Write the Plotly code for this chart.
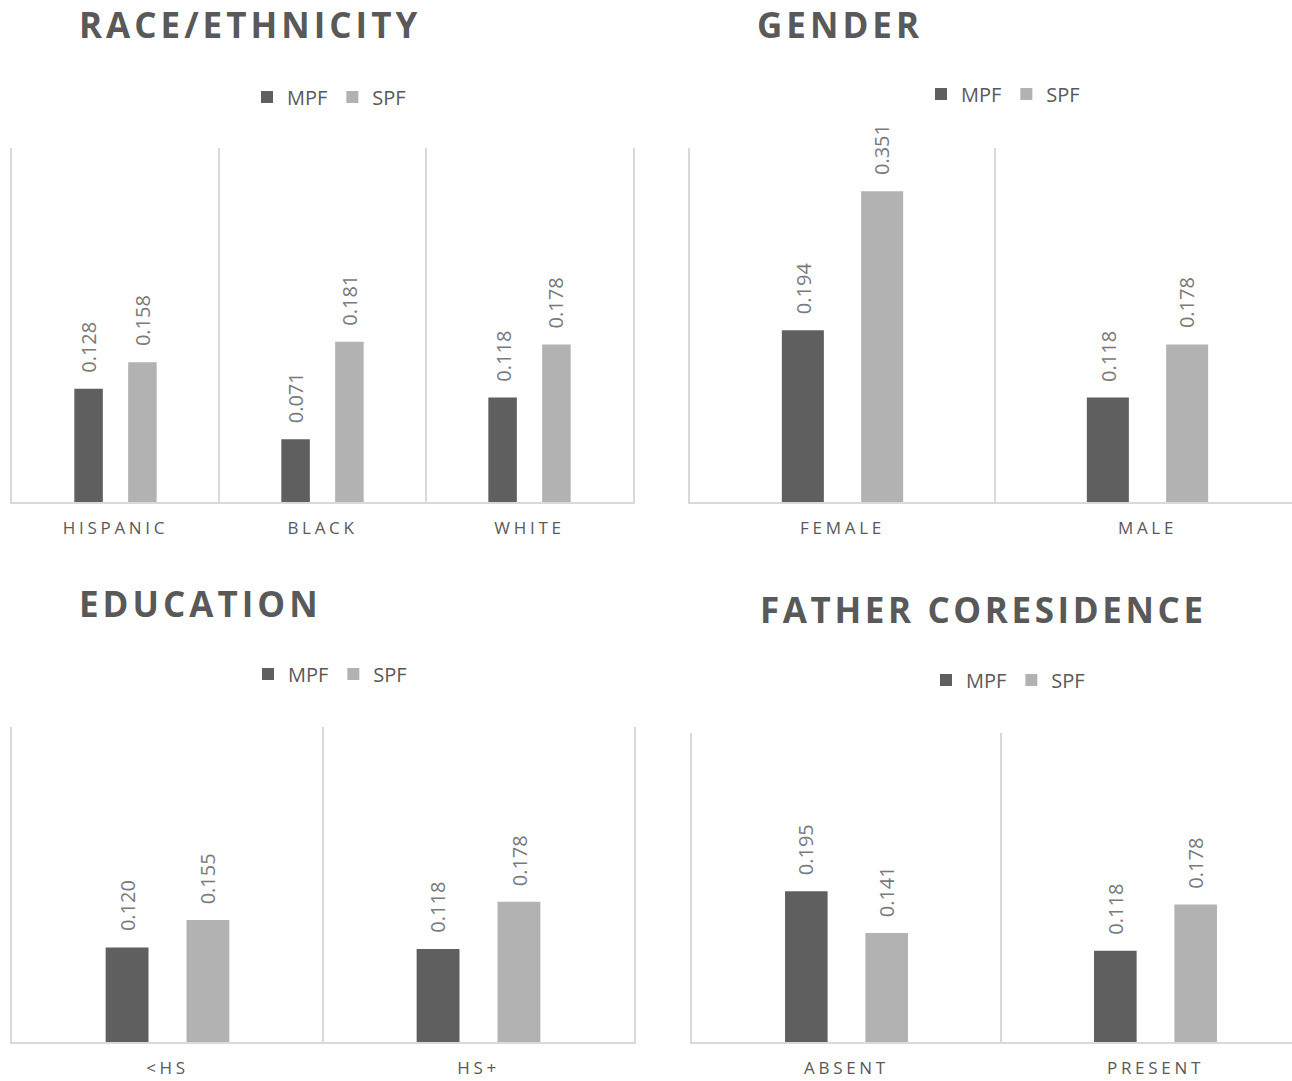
import plotly.graph_objects as go

# ---- data -------------------------------------------------------------
race_cats = ["HISPANIC", "BLACK", "WHITE"]
race_mpf = [0.128, 0.071, 0.118]
race_spf = [0.158, 0.181, 0.178]

gender_cats = ["FEMALE", "MALE"]
gender_mpf = [0.194, 0.118]
gender_spf = [0.351, 0.178]

edu_cats = ["<HS", "HS+"]
edu_mpf = [0.120, 0.118]
edu_spf = [0.155, 0.178]

father_cats = ["ABSENT", "PRESENT"]
father_mpf = [0.195, 0.118]
father_spf = [0.141, 0.178]

series_names = ["MPF", "SPF"]
panel_titles = ["RACE/ETHNICITY", "GENDER", "EDUCATION", "FATHER CORESIDENCE"]

# ---- styling ----------------------------------------------------------
W, H = 1292, 1081
BAR_COLORS = ["#5f5f5f", "#b2b2b2"]
TEXT_DARK = "#595959"
TEXT_VALUE = "#7a7a7a"
LINE = "#d9d9d9"
FONT = "Open Sans"
BARGAP = 0.48
SLOT = (1 - BARGAP) / 2          # width of one series slot inside a group
Y_MAX = 0.4


def esc(s):
    return s.replace("&", "&amp;").replace("<", "&lt;").replace(">", "&gt;")


def spaced(s, px):
    return f'<span style="letter-spacing:{px}px">{esc(s)}</span>'


# pixel frames of each panel: left edge, category width, top, bottom
panels = [
    dict(cats=race_cats, vals=[race_mpf, race_spf], left=12, catw=207, top=148, bottom=502,
         title_x=77, title_y=25, title_sp=4, leg_x=329, leg_y=97, clip=False),
    dict(cats=gender_cats, vals=[gender_mpf, gender_spf], left=690, catw=305, top=148, bottom=502,
         title_x=755, title_y=24, title_sp=4, leg_x=1003, leg_y=94, clip=True),
    dict(cats=edu_cats, vals=[edu_mpf, edu_spf], left=12, catw=311, top=727, bottom=1042,
         title_x=77, title_y=603, title_sp=4, leg_x=330, leg_y=674, clip=False),
    dict(cats=father_cats, vals=[father_mpf, father_spf], left=692, catw=309, top=733, bottom=1042,
         title_x=758, title_y=609, title_sp=3.6, leg_x=1008, leg_y=680, clip=True),
]

fig = go.Figure()
annotations = []

for k, p in enumerate(panels, start=1):
    sfx = "" if k == 1 else str(k)
    xa, ya = f"xaxis{sfx}", f"yaxis{sfx}"
    xr, yr = f"x{sfx}", f"y{sfx}"
    leg = "legend" if k == 1 else f"legend{k}"
    n = len(p["cats"])

    right_px = min(p["left"] + p["catw"] * n, W)
    span = (right_px - p["left"]) / p["catw"]

    for s, (name, vals) in enumerate(zip(series_names, p["vals"])):
        fig.add_trace(go.Bar(
            x=p["cats"], y=vals, name=name,
            marker=dict(color=BAR_COLORS[s], line=dict(width=0)),
            xaxis=xr, yaxis=yr, legend=leg, showlegend=True,
            hoverinfo="skip",
        ))
        offset = (s - 0.5) * SLOT
        for i, v in enumerate(vals):
            annotations.append(dict(
                x=i + offset, y=v, xref=xr, yref=yr,
                text=f"{v:.3f}", textangle=-90, showarrow=False,
                xanchor="center", yanchor="bottom", yshift=14,
                font=dict(family=FONT, size=20, color=TEXT_VALUE),
            ))

    fig.layout[xa] = dict(
        domain=[p["left"] / W, right_px / W],
        anchor=yr, type="category",
        categoryorder="array", categoryarray=p["cats"],
        range=[-0.5, -0.5 + span],
        tickson="boundaries", ticks="", showgrid=True,
        gridcolor=LINE, gridwidth=1.5,
        showline=True, linecolor=LINE, linewidth=1.5,
        tickvals=p["cats"], ticktext=[spaced(c, 3.7) for c in p["cats"]],
        tickfont=dict(family=FONT, size=17, color=TEXT_DARK),
        ticklabelstandoff=10,
        zeroline=False, fixedrange=True,
    )
    fig.layout[ya] = dict(
        domain=[1 - p["bottom"] / H, 1 - p["top"] / H],
        anchor=xr, range=[0, Y_MAX],
        showgrid=False, zeroline=False, showticklabels=False,
        showline=True, linecolor=LINE, linewidth=1.5,
        mirror=not p["clip"], ticks="", fixedrange=True,
    )

    fig.layout[leg] = dict(
        orientation="h", x=p["leg_x"] / W, y=1 - p["leg_y"] / H,
        xanchor="center", yanchor="middle",
        font=dict(family=FONT, size=20, color=TEXT_DARK),
        bgcolor="rgba(0,0,0,0)", itemwidth=30, traceorder="normal",
        itemclick=False, itemdoubleclick=False,
    )

    annotations.append(dict(
        x=p["title_x"] / W, y=1 - p["title_y"] / H, xref="paper", yref="paper",
        text=spaced(panel_titles[k - 1], p["title_sp"]), showarrow=False,
        xanchor="left", yanchor="middle",
        font=dict(family=FONT, size=35, color=TEXT_DARK, weight=700),
    ))

fig.update_layout(
    width=W, height=H,
    margin=dict(l=0, r=0, t=0, b=0),
    paper_bgcolor="white", plot_bgcolor="white",
    barmode="group", bargap=BARGAP, bargroupgap=0.47,
    annotations=annotations,
    font=dict(family=FONT, color=TEXT_DARK),
)

fig.write_html("out.html", config={"displayModeBar": False})
